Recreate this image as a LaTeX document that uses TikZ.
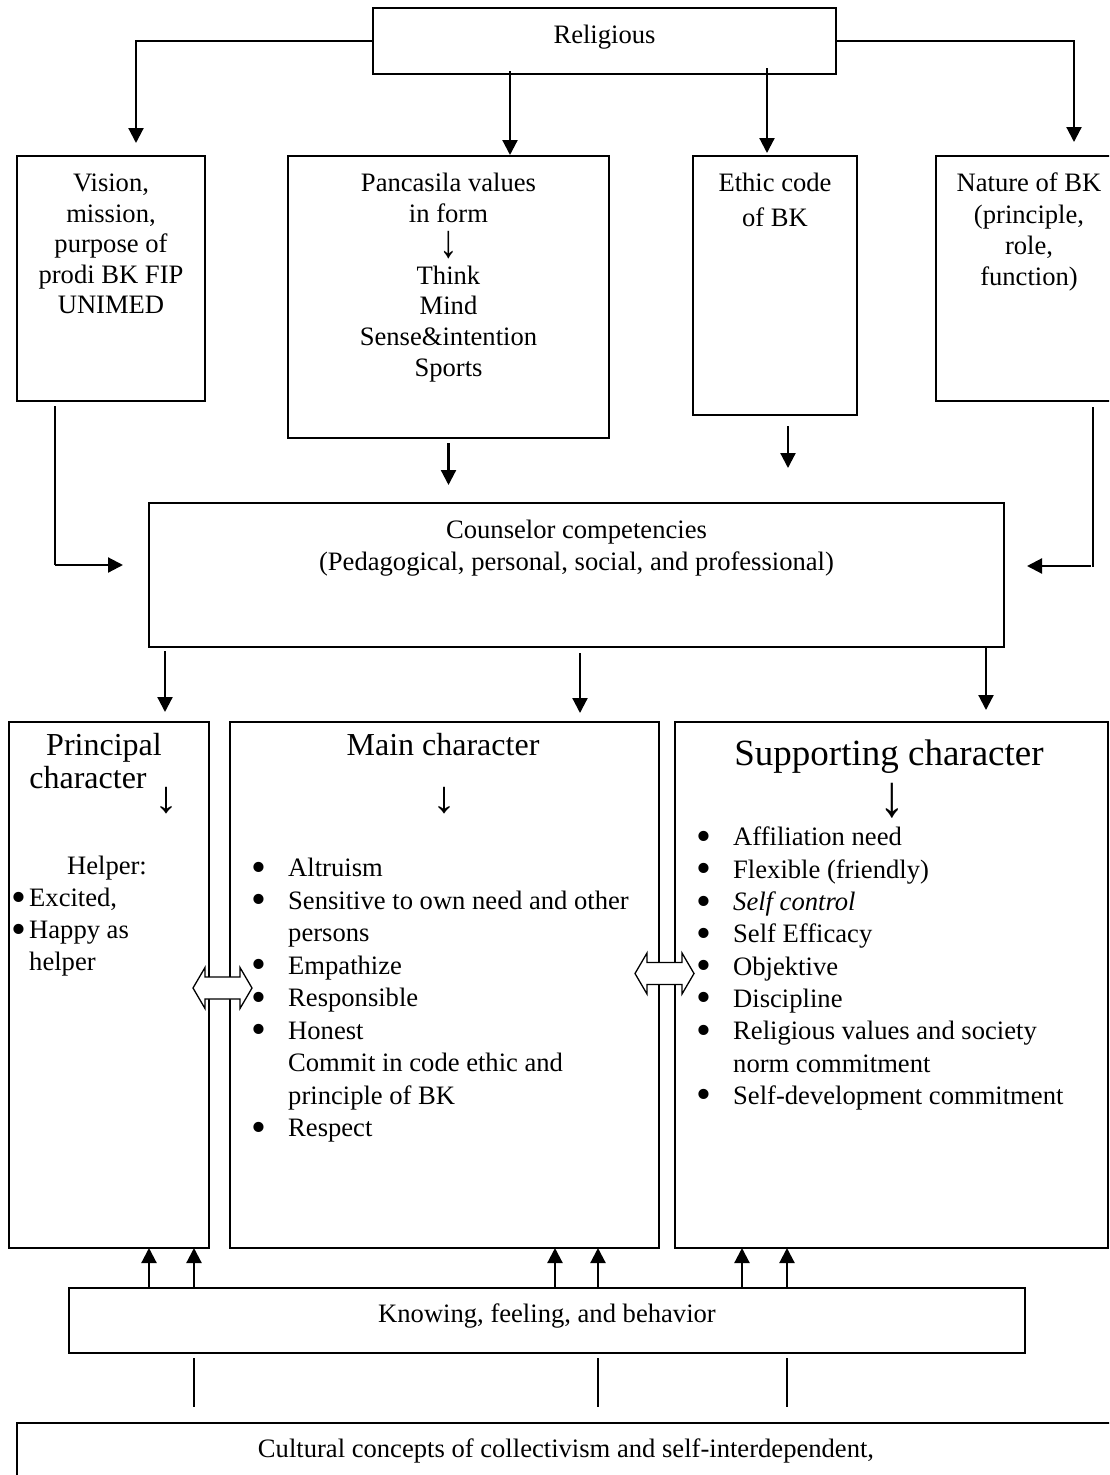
\documentclass[tikz,border=0pt]{standalone}
\usepackage{fontspec}
\setmainfont{Liberation Serif}
\usetikzlibrary{arrows.meta,calc}
\newcommand\topst{\rule{0pt}{0.72em}}
\newcommand\bul{\raisebox{-4.5pt}{\scalebox{1.6}{\textbullet}}}
\begin{document}
\begin{tikzpicture}[x=1pt,y=-1pt,
  box/.style={draw, line width=1.8pt, anchor=north west, inner sep=0, outer sep=0},
  arr/.style={line width=2.2pt, -{Triangle[length=15pt,width=15pt]}},
  thinl/.style={line width=1.3pt},
  dbl/.style={draw, line width=1.3pt, fill=white, line join=miter},
  txt/.style={inner sep=0, align=center},
  lst/.style={inner sep=0, align=left, anchor=north west},
]
\useasboundingbox (0,0) rectangle (1109,1475);
\clip (0,0) rectangle (1109,1475);

% ---------- boxes ----------
\node[box, minimum width=463, minimum height=66]  (rel)  at (373,8) {};
\node[box, minimum width=188, minimum height=245] (vis)  at (17,156) {};
\node[box, minimum width=321, minimum height=282] (pan)  at (288,156) {};
\node[box, minimum width=164, minimum height=259] (eth)  at (693,156) {};
\node[box, minimum width=188, minimum height=245] (nat)  at (936,156) {};
\node[box, minimum width=855, minimum height=144] (coun) at (149,503) {};
\node[box, minimum width=200, minimum height=526] (prin) at (9,722) {};
\node[box, minimum width=429, minimum height=526] (main) at (230,722) {};
\node[box, minimum width=433, minimum height=526] (supp) at (675,722) {};
\node[box, minimum width=956, minimum height=65]  (know) at (69,1288) {};
\node[box, minimum width=1099, minimum height=100] (cult) at (17,1423) {};

% ---------- texts ----------
\node[txt, anchor=base, font=\fontsize{26.6}{30.6}\selectfont] (relt) at (604.5,43) {Religious};
\node[txt, anchor=north, font=\fontsize{26.6}{30.5}\selectfont] (vist) at (111,172.6)
  {\topst Vision,\\mission,\\purpose of\\prodi BK FIP\\UNIMED};
\node[txt, anchor=north, font=\fontsize{26.6}{30.7}\selectfont] (pant) at (448.5,172.6)
  {\topst Pancasila values\\in form\\\raisebox{-4pt}{\scalebox{1.4}[1.75]{↓}}\\Think\\Mind\\Sense\&intention\\Sports};
\node[txt, anchor=north, font=\fontsize{26.6}{35}\selectfont] (etht) at (775,172.6)
  {\topst Ethic code\\of BK};
\node[txt, anchor=north, font=\fontsize{26.6}{31.3}\selectfont] (natt) at (1029,172.6)
  {\topst Nature of BK\\(principle,\\role,\\function)};
\node[txt, anchor=north, font=\fontsize{26.6}{32}\selectfont] (count) at (576.5,519.6)
  {\topst Counselor competencies\\(Pedagogical, personal, social, and professional)};

\node[txt, anchor=north, font=\fontsize{32}{33}\selectfont] (prit) at (104,732)
  {\topst Principal\\character \raisebox{-24pt}{\scalebox{1.5}[1.4]{↓}}};
\node[txt, anchor=base, font=\fontsize{32}{33}\selectfont] (maint) at (443,755) {Main character};
\node[txt, font=\fontsize{32}{33}\selectfont] (maina) at (444,801) {\scalebox{1.5}[1.4]{↓}};
\node[txt, anchor=base, font=\fontsize{37}{40}\selectfont] (suppt) at (889,765) {Supporting character};
\node[txt, font=\fontsize{32}{33}\selectfont] (suppa) at (892,801) {\scalebox{1.6}[1.85]{↓}};

\node[txt, anchor=base, font=\fontsize{26.6}{30.6}\selectfont] (helper) at (107,874) {Helper:};
\node[lst, font=\fontsize{26.6}{32}\selectfont] (prinl) at (11,887.6)
  {\topst\makebox[18pt][l]{\bul}Excited,\\
   \makebox[18pt][l]{\bul}Happy as\\
   \hspace*{18pt}helper};
\node[lst, font=\fontsize{26.6}{32.5}\selectfont] (mainl) at (251,857.6)
  {\topst\makebox[37pt][l]{\bul}Altruism\\
   \makebox[37pt][l]{\bul}Sensitive to own need and other\\
   \hspace*{37pt}persons\\
   \makebox[37pt][l]{\bul}Empathize\\
   \makebox[37pt][l]{\bul}Responsible\\
   \makebox[37pt][l]{\bul}Honest\\
   \hspace*{37pt}Commit in code ethic and\\
   \hspace*{37pt}principle of BK\\
   \makebox[37pt][l]{\bul}Respect};
\node[lst, font=\fontsize{26.6}{32.3}\selectfont] (suppl) at (696,826.6)
  {\topst\makebox[37pt][l]{\bul}Affiliation need\\
   \makebox[37pt][l]{\bul}Flexible (friendly)\\
   \makebox[37pt][l]{\bul}\textit{Self control}\\
   \makebox[37pt][l]{\bul}Self Efficacy\\
   \makebox[37pt][l]{\bul}Objektive\\
   \makebox[37pt][l]{\bul}Discipline\\
   \makebox[37pt][l]{\bul}Religious values and society\\
   \hspace*{37pt}norm commitment\\
   \makebox[37pt][l]{\bul}Self-development commitment};

\node[txt, anchor=base, font=\fontsize{26.6}{30.6}\selectfont] (knowt) at (547,1322) {Knowing, feeling, and behavior};
\node[txt, anchor=base, font=\fontsize{26.6}{30.6}\selectfont] (cultt) at (566,1457) {Cultural concepts of collectivism and self-interdependent,};

% ---------- connectors from Religious ----------
\coordinate (vtip) at (136,143);
\coordinate (ntip) at (1074,142);
\coordinate (px) at (510,0);
\coordinate (ex) at (767,0);
\draw[arr] (rel.west) -| (vtip);
\draw[arr] (rel.east) -| (ntip);
\draw[arr] ($(rel.south -| px)+(0,-3)$) -- ($(pan.north -| px)+(0,-1)$);
\draw[arr] ($(rel.south -| ex)+(0,-6)$) -- ($(eth.north -| ex)+(0,-3)$);

% ---------- to counselor ----------
\coordinate (vc) at (55,565);
\coordinate (nc) at (1093,566);
\coordinate (ex2) at (788,0);
\draw[thinl] ($(vis.south -| vc)+(0,5)$) -- (vc);
\draw[arr] (vc) -- ($(coun.west |- vc)+(-26,0)$);
\draw[thinl] ($(nat.south -| nc)+(0,6)$) -- ($(nc)+(0,1)$);
\draw[arr] ($(nc)+(-2,0)$) -- ($(coun.east |- nc)+(23,0)$);
\draw[arr] ($(pan.south)+(0,5)$) -- ($(coun.north -| pan.south)+(0,-18)$);
\draw[arr] ($(eth.south -| ex2)+(0,11)$) -- ($(coun.north -| ex2)+(0,-35)$);

% ---------- counselor to characters ----------
\coordinate (c1) at (165,0);
\coordinate (c2) at (580,0);
\coordinate (c3) at (986,0);
\draw[arr] ($(coun.south -| c1)+(0,4)$) -- ($(prin.north -| c1)+(0,-10)$);
\draw[arr] ($(coun.south -| c2)+(0,6)$) -- ($(main.north -| c2)+(0,-9)$);
\draw[arr] ($(coun.south -| c3)+(0,1)$) -- ($(supp.north -| c3)+(0,-12)$);

% ---------- double arrows ----------
\coordinate (da1) at (222.5,988);
\coordinate (da2) at (664.5,973.5);
\foreach \c in {da1,da2}{
  \draw[dbl] ($(\c)+(-29.5,0)$) -- ++(12,-20.5) -- ++(0,9.5) -- ++(35,0) -- ++(0,-9.5)
    -- ++(12,20.5) -- ++(-12,20.5) -- ++(0,-9.5) -- ++(-35,0) -- ++(0,9.5) -- cycle;
}

% ---------- from Knowing ----------
\foreach \x/\b in {149/prin,194/prin,555/main,598/main,742/supp,787/supp}{
  \draw[arr] (know.north -| \x,0) -- (\b.south -| \x,0);
}
\foreach \x in {194,598,787}{
  \draw[thinl] ($(know.south -| \x,0)+(0,5)$) -- ($(cult.north -| \x,0)+(0,-16)$);
}
\end{tikzpicture}
\end{document}
